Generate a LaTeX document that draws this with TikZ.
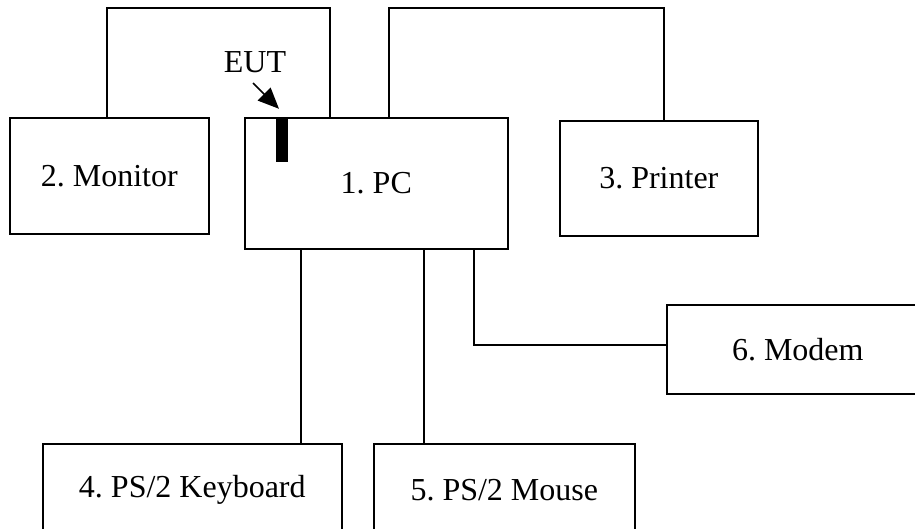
\documentclass[tikz,border=0pt]{standalone}
\usepackage{fontspec}
\setmainfont{Liberation Serif}
\usetikzlibrary{arrows.meta,calc}
\tikzset{
  box/.style={draw=black, line width=1.6pt, anchor=north west, inner sep=0pt, font=\fontsize{32}{36}\selectfont\frenchspacing},
  wire/.style={draw=black, line width=1.6pt},
  eutarrow/.style={draw=black, line width=1.6pt, -{Triangle[length=21pt,width=18pt]}},
  lbl/.style={font=\fontsize{32}{36}\selectfont, inner sep=0pt}
}
\begin{document}
\begin{tikzpicture}[x=1pt,y=-1pt]
\useasboundingbox (0,0) rectangle (915,528);
\clip (0,0) rectangle (915,528);
\node[box, minimum width=199pt, minimum height=116pt] (mon) at (9,117) {2. Monitor};
\node[box, minimum width=263pt, minimum height=131pt] (pc) at (244,117) {1. PC};
\node[box, minimum width=198pt, minimum height=115pt] (prn) at (559,120) {3. Printer};
\node[box, minimum width=262pt, minimum height=89pt] (modem) at (666,304) {6. Modem};
\node[box, minimum width=299pt, minimum height=92pt] (kbd) at (42,443) {4. PS/2 Keyboard};
\node[box, minimum width=261pt, minimum height=92pt] (mouse) at (373,443) {5. PS/2 Mouse};
\node[fill=black, inner sep=0pt, minimum width=12pt, minimum height=45pt] (bar) at (282,139.5) {};
\node[lbl] (eut) at (255,62) {EUT};
\coordinate (a1) at (253,83);
\draw[eutarrow] (a1) -- ([xshift=-3pt,yshift=8pt]bar.north);
% top connectors
\draw[wire] ([xshift=-2.5pt]mon.north) -- ++(0,-109) -| ([xshift=86pt]pc.north west);
\draw[wire] ([xshift=145pt]pc.north west) -- ++(0,-109) -| ([xshift=105pt]prn.north west);
% bottom connectors
\coordinate (c1) at ([xshift=57pt]pc.south west);
\coordinate (c2) at ([xshift=180pt]pc.south west);
\coordinate (c3) at ([xshift=230pt]pc.south west);
\draw[wire] (c1) -- (c1 |- kbd.north);
\draw[wire] (c2) -- (c2 |- mouse.north);
\draw[wire] (c3) |- ([yshift=4.5pt]modem.west);
\end{tikzpicture}
\end{document}
